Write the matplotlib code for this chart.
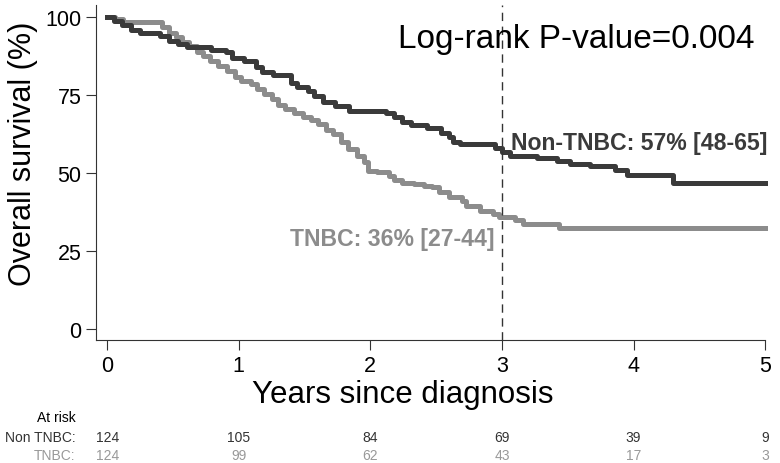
import matplotlib
matplotlib.use("Agg")
import matplotlib.pyplot as plt

plt.rcParams["font.family"] = ["Liberation Sans", "DejaVu Sans"]

# Kaplan-Meier step points (years, % surviving)
nontnbc_t = [0.00, 0.05, 0.11, 0.18, 0.25, 0.40, 0.47, 0.54, 0.61, 0.79, 0.90, 0.95,
             1.04, 1.13, 1.18, 1.26, 1.40, 1.44, 1.53, 1.57, 1.64, 1.73, 1.84, 2.12,
             2.18, 2.24, 2.31, 2.43, 2.54, 2.60, 2.63, 2.68, 2.95, 3.00, 3.06, 3.27,
             3.42, 3.52, 3.67, 3.86, 3.95, 4.30, 5.00]
nontnbc_s = [100, 99, 97.5, 96, 95, 94, 92.5, 91.5, 90.5, 89.7, 88.8, 87,
             86, 84, 82.5, 81.7, 79, 77.6, 76.3, 74.7, 73, 71.5, 70, 69.5,
             68, 66.5, 65.5, 64.5, 63, 61.5, 60, 59.3, 58, 57, 55.7, 55,
             54, 53, 52.2, 51, 49.5, 47, 47]

tnbc_t = [0.00, 0.06, 0.12, 0.42, 0.47, 0.52, 0.57, 0.62, 0.68, 0.73, 0.78, 0.84,
          0.91, 0.97, 1.02, 1.09, 1.14, 1.19, 1.25, 1.30, 1.35, 1.42, 1.49, 1.55,
          1.60, 1.66, 1.72, 1.78, 1.83, 1.90, 1.95, 1.98, 2.05, 2.14, 2.18, 2.24,
          2.33, 2.41, 2.47, 2.52, 2.60, 2.70, 2.73, 2.83, 2.93, 2.98, 3.10, 3.16,
          3.43, 5.00]
tnbc_s = [100, 99.4, 98.7, 96.8, 95, 93.6, 92.2, 90.7, 88.8, 87.5, 86, 84.3,
          82.7, 81, 79.5, 78.5, 77, 75.3, 73.7, 72, 70.5, 69.5, 68, 67,
          65.7, 64, 62.5, 60, 57.7, 55.4, 53.5, 50.6, 50.3, 49, 48, 47,
          46.5, 45.8, 45.5, 44, 42.5, 41, 39.5, 38, 37, 36, 35, 33.7,
          32.5, 32.5]

risk_years = [0, 1, 2, 3, 4, 5]
risk_nontnbc = [124, 105, 84, 69, 39, 9]
risk_tnbc = [124, 99, 62, 43, 17, 3]

dark = "#3a3a3a"
grey = "#8c8c8c"

fig = plt.figure(figsize=(7.8, 4.64), dpi=100)
ax = fig.add_axes([0.123, 0.265, 0.858, 0.722])

ax.step(tnbc_t, tnbc_s, where="post", color=grey, linewidth=3.6, clip_on=False)
ax.step(nontnbc_t, nontnbc_s, where="post", color=dark, linewidth=3.6, clip_on=False)
ax.axvline(3, color="#333333", linewidth=1, linestyle=(0, (6, 4)))

ax.text(3.07, 60, "Non-TNBC: 57% [48-65]", color=dark, fontsize=16.6,
        fontweight="bold", ha="left", va="center")
ax.text(2.94, 29, "TNBC: 36% [27-44]", color=grey, fontsize=16.6,
        fontweight="bold", ha="right", va="center")
ax.text(4.92, 93.2, "Log-rank P-value=0.004", fontsize=24, ha="right", va="center")

ax.set_xlim(-0.085, 5.0)
ax.set_ylim(-3.5, 104)
ax.set_xticks(risk_years)
ax.set_yticks([0, 25, 50, 75, 100])
ax.tick_params(labelsize=15.5, length=7, color="#333333")
ax.set_xlabel("Years since diagnosis", fontsize=22.5)
ax.set_ylabel("Overall survival (%)", fontsize=22)
ax.xaxis.set_label_coords(0.459, -0.115)
ax.yaxis.set_label_coords(-0.087, 0.56)
for s in ["top", "right"]:
    ax.spines[s].set_visible(False)
for s in ["left", "bottom"]:
    ax.spines[s].set_color("#333333")

# number at risk table
tr = ax.get_xaxis_transform()
ax.text(-0.24, -0.231, "At risk", transform=tr, fontsize=10, ha="right", va="center",
        clip_on=False)
ax.text(-0.24, -0.288, "Non TNBC:", transform=tr, fontsize=10, ha="right", va="center",
        color="#333333", clip_on=False)
ax.text(-0.24, -0.342, "TNBC:", transform=tr, fontsize=10, ha="right", va="center",
        color="#999999", clip_on=False)
for yr, a, b in zip(risk_years, risk_nontnbc, risk_tnbc):
    ax.text(yr, -0.288, str(a), transform=tr, fontsize=10, ha="center", va="center",
            color="#333333", clip_on=False)
    ax.text(yr, -0.342, str(b), transform=tr, fontsize=10, ha="center", va="center",
            color="#999999", clip_on=False)

plt.savefig("out.png", dpi=100)
